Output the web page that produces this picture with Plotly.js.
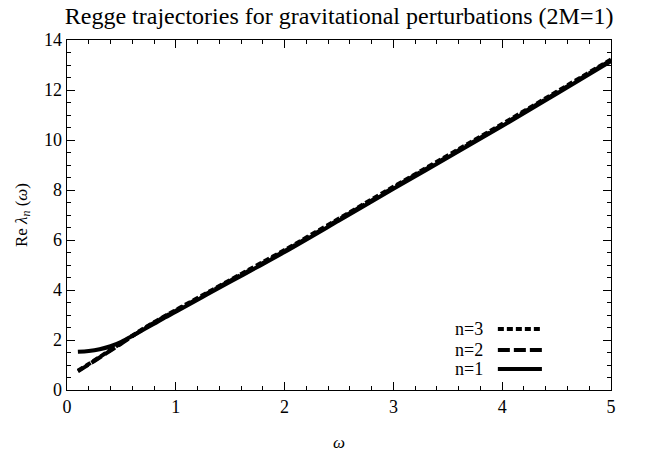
<!DOCTYPE html>
<html>
<head>
<meta charset="utf-8">
<script src="https://cdn.plot.ly/plotly-3.0.1.min.js"></script>
<style>html,body{margin:0;padding:0;background:#fff;}#chart{width:646px;height:458px;}</style>
</head>
<body>
<div id="chart"></div>
<script>
const omega = [0.1,0.2,0.3,0.4,0.5,0.6,0.7,0.8,0.9,1.0,1.25,1.5,1.75,2,2.5,3,3.5,4,4.5,5];
const n1 = [1.53,1.56,1.63,1.75,1.93,2.16,2.41,2.65,2.9,3.13,3.73,4.33,4.92,5.52,6.78,8.05,9.3,10.56,11.85,13.15];
const n2 = [0.75,1.02,1.3,1.58,1.86,2.15,2.43,2.69,2.94,3.17,3.77,4.37,4.96,5.56,6.82,8.09,9.34,10.6,11.89,13.19];
const n3 = [0.77,1.04,1.32,1.6,1.88,2.17,2.45,2.71,2.96,3.2,3.8,4.4,5.0,5.6,6.86,8.13,9.38,10.64,11.93,13.22];
const seriesNames = ["n=1","n=2","n=3"];
const xTicks = [0,1,2,3,4,5];
const yTicks = [0,2,4,6,8,10,12,14];

const serif = "'Times New Roman', 'Liberation Serif', serif";
const dashes = ["solid", "12px,4px", "6px,3px"];
const series = [n1, n2, n3];

const traces = series.map((s, i) => ({
  x: omega, y: s, mode: "lines", name: seriesNames[i], showlegend: false,
  line: {color: "#000", width: 4, dash: dashes[i], shape: "spline"}
}));

const axisCommon = {
  showgrid: false, zeroline: false, showline: true, linecolor: "#000", linewidth: 1.3,
  mirror: "allticks", ticks: "inside", ticklen: 8, tickwidth: 1, tickcolor: "#000",
  tickfont: {family: serif, size: 18, color: "#000"}
};

// legend (text on the left, line sample on the right), in paper coordinates
const legendY = [0.06, 0.114, 0.174];
const annotations = seriesNames.map((t, i) => ({
  text: t, xref: "paper", yref: "paper", x: 0.768, y: legendY[i],
  xanchor: "right", yanchor: "middle", showarrow: false,
  font: {family: serif, size: 18, color: "#000"}
}));
const shapes = seriesNames.map((t, i) => ({
  type: "line", xref: "paper", yref: "paper", x0: 0.792, x1: 0.873, y0: legendY[i], y1: legendY[i],
  line: {color: "#000", width: 4, dash: dashes[i]}
}));

const layout = {
  width: 646, height: 458,
  margin: {l: 67, r: 35, t: 40, b: 68},
  paper_bgcolor: "#fff", plot_bgcolor: "#fff",
  title: {text: "Regge trajectories for gravitational perturbations (2M=1)", font: {family: serif, size: 24, color: "#000"}, x: 0.525, xanchor: "center", y: 0.984, yanchor: "top"},
  xaxis: Object.assign({}, axisCommon, {
    range: [0, 5], tickvals: xTicks, ticktext: xTicks.map(String),
    minor: {ticks: "inside", ticklen: 4, dtick: 0.2, tickcolor: "#000", tickwidth: 1},
    title: {text: "<i>ω</i>", font: {family: serif, size: 17, color: "#000"}, standoff: 20}
  }),
  yaxis: Object.assign({}, axisCommon, {
    range: [0, 14], tickvals: yTicks, ticktext: yTicks.map(String),
    minor: {ticks: "inside", ticklen: 4, dtick: 0.5, tickcolor: "#000", tickwidth: 1},
    title: {text: "Re <i>λ<sub>n</sub></i> (<i>ω</i>)", font: {family: serif, size: 17, color: "#000"}, standoff: 12}
  }),
  showlegend: false,
  annotations: annotations,
  shapes: shapes
};

Plotly.newPlot("chart", traces, layout, {displayModeBar: false, staticPlot: true});
</script>
</body>
</html>
